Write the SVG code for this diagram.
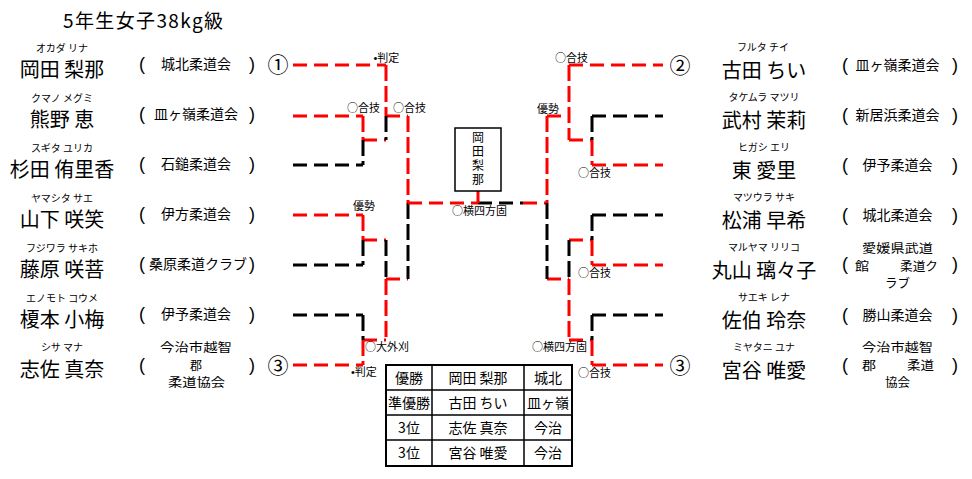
<svg xmlns="http://www.w3.org/2000/svg" width="972" height="479" viewBox="0 0 972 479">
<style>
text{font-family:"Noto Sans CJK JP","Noto Sans",sans-serif;fill:#000}
.fu{font-size:10px;text-anchor:middle}
.nm{font-size:20px;text-anchor:middle}
.cl{font-size:14px;text-anchor:middle}
.c3{font-size:12px}
.pa{font-family:"Liberation Sans",sans-serif;font-size:18px}
.cn{font-size:21px;text-anchor:middle}
.lb{font-size:11px}
.bu{font-family:"Liberation Sans",sans-serif}
.tb{font-size:14px;text-anchor:middle}
.r{stroke:#ff0000}
.k{stroke:#000000}
.h{stroke-width:3;stroke-dasharray:14 7;fill:none}
.v{stroke-width:3;stroke-dasharray:16 5;fill:none}
.s{stroke-width:3;fill:none}
</style>
<rect width="972" height="479" fill="#ffffff"/>
<text id="title" x="63" y="28" font-size="19" textLength="160" lengthAdjust="spacing">5年生女子38kg級</text>

<g id="connectors">
<line class="h r" x1="293" y1="65" x2="386" y2="65"/>
<line class="h r" x1="293" y1="116" x2="363" y2="116"/>
<line class="h k" x1="293" y1="165" x2="363" y2="165"/>
<line class="h r" x1="293" y1="215" x2="363" y2="215"/>
<line class="h k" x1="293" y1="265" x2="363" y2="265"/>
<line class="h k" x1="293" y1="315" x2="363" y2="315"/>
<line class="h r" x1="293" y1="365" x2="363" y2="365"/>
<line class="h r" x1="363" y1="140" x2="386" y2="140"/>
<line class="h r" x1="386" y1="116" x2="408" y2="116"/>
<line class="h r" x1="363" y1="240" x2="386" y2="240"/>
<line class="h r" x1="363" y1="340" x2="386" y2="340"/>
<line class="h r" x1="386" y1="279" x2="408" y2="279"/>
<line class="v r" x1="363" y1="116" x2="363" y2="140"/>
<line class="v k" x1="363" y1="140" x2="363" y2="165"/>
<line class="v r" x1="363" y1="215" x2="363" y2="240"/>
<line class="v k" x1="363" y1="240" x2="363" y2="265"/>
<line class="v k" x1="363" y1="315" x2="363" y2="340"/>
<line class="v r" x1="363" y1="340" x2="363" y2="365"/>
<line class="v r" x1="386" y1="65" x2="386" y2="116"/>
<line class="v k" x1="386" y1="116" x2="386" y2="140"/>
<line class="v k" x1="386" y1="240" x2="386" y2="279"/>
<line class="v r" x1="386" y1="279" x2="386" y2="340"/>
<line class="v r" x1="408" y1="116" x2="408" y2="203"/>
<line class="v k" x1="408" y1="203" x2="408" y2="279"/>
<line class="h r" x1="408" y1="203" x2="478" y2="203"/>
<line class="h k" x1="478" y1="203" x2="523" y2="203"/>
<line class="h r" x1="523" y1="203" x2="547" y2="203"/>
<line class="s r" x1="478" y1="191" x2="478" y2="203"/>
<line class="h r" x1="569" y1="65" x2="663" y2="65"/>
<line class="h k" x1="592" y1="116" x2="663" y2="116"/>
<line class="h r" x1="592" y1="165" x2="663" y2="165"/>
<line class="h k" x1="592" y1="215" x2="663" y2="215"/>
<line class="h r" x1="592" y1="265" x2="663" y2="265"/>
<line class="h k" x1="592" y1="315" x2="663" y2="315"/>
<line class="h r" x1="592" y1="365" x2="663" y2="365"/>
<line class="h r" x1="569" y1="140" x2="592" y2="140"/>
<line class="h r" x1="569" y1="240" x2="592" y2="240"/>
<line class="h r" x1="569" y1="340" x2="592" y2="340"/>
<line class="h r" x1="547" y1="116" x2="569" y2="116"/>
<line class="h r" x1="547" y1="279" x2="569" y2="279"/>
<line class="v k" x1="592" y1="116" x2="592" y2="140"/>
<line class="v r" x1="592" y1="140" x2="592" y2="165"/>
<line class="v k" x1="592" y1="215" x2="592" y2="240"/>
<line class="v r" x1="592" y1="240" x2="592" y2="265"/>
<line class="v k" x1="592" y1="315" x2="592" y2="340"/>
<line class="v r" x1="592" y1="340" x2="592" y2="365"/>
<line class="v r" x1="569" y1="65" x2="569" y2="140"/>
<line class="v k" x1="569" y1="240" x2="569" y2="279"/>
<line class="v r" x1="569" y1="279" x2="569" y2="340"/>
<line class="v r" x1="547" y1="116" x2="547" y2="203"/>
<line class="v k" x1="547" y1="203" x2="547" y2="279"/>
</g>

<g id="labels">
<text class="lb" x="373.5" y="62"><tspan class="bu">•</tspan>判定</text>
<text class="lb" x="347" y="112">○合技</text>
<text class="lb" x="393" y="112">○合技</text>
<text class="lb" x="353" y="210">優勢</text>
<text class="lb" x="365" y="351">○大外刈</text>
<text class="lb" x="351" y="376"><tspan class="bu">•</tspan>判定</text>
<text class="lb" x="452" y="215">○横四方固</text>
<text class="lb" x="555" y="62">○合技</text>
<text class="lb" x="537" y="113">優勢</text>
<text class="lb" x="578" y="177">○合技</text>
<text class="lb" x="578" y="277">○合技</text>
<text class="lb" x="532" y="351">○横四方固</text>
<text class="lb" x="578" y="377">○合技</text>
</g>

<g id="winner-box">
<rect x="455" y="128" width="46" height="63" fill="#ffffff" stroke="#000" stroke-width="1.5"/>
<text x="478" y="131" font-size="12" writing-mode="vertical-rl" letter-spacing="2">岡田梨那</text>
</g>

<g id="p-l1">
<text class="fu" x="62" y="51.5">オカダ リナ</text>
<text class="nm" x="62" y="77">岡田 梨那</text>
<text class="pa" x="139" y="70">(</text>
<text class="cl" x="196" y="69">城北柔道会</text>
<text class="pa" x="249" y="70">)</text>
<text class="cn" x="278" y="72">①</text>
</g>
<g id="p-l2">
<text class="fu" x="62" y="101.5">クマノ メグミ</text>
<text class="nm" x="62" y="127">熊野 恵</text>
<text class="pa" x="139" y="120">(</text>
<text class="cl" x="196" y="119">皿ヶ嶺柔道会</text>
<text class="pa" x="249" y="120">)</text>
</g>
<g id="p-l3">
<text class="fu" x="62" y="151.5">スギタ ユリカ</text>
<text class="nm" x="62" y="177">杉田 侑里香</text>
<text class="pa" x="139" y="170">(</text>
<text class="cl" x="196" y="169">石鎚柔道会</text>
<text class="pa" x="249" y="170">)</text>
</g>
<g id="p-l4">
<text class="fu" x="62" y="201.5">ヤマシタ サエ</text>
<text class="nm" x="62" y="227">山下 咲笑</text>
<text class="pa" x="139" y="220">(</text>
<text class="cl" x="196" y="219">伊方柔道会</text>
<text class="pa" x="249" y="220">)</text>
</g>
<g id="p-l5">
<text class="fu" x="62" y="251.5">フジワラ サキホ</text>
<text class="nm" x="62" y="277">藤原 咲菩</text>
<text class="pa" x="139" y="270">(</text>
<text class="cl" x="198" y="269">桑原柔道クラブ</text>
<text class="pa" x="249" y="270">)</text>
</g>
<g id="p-l6">
<text class="fu" x="62" y="301.5">エノモト コウメ</text>
<text class="nm" x="62" y="327">榎本 小梅</text>
<text class="pa" x="139" y="320">(</text>
<text class="cl" x="196" y="319">伊予柔道会</text>
<text class="pa" x="249" y="320">)</text>
</g>
<g id="p-l7">
<text class="fu" x="62" y="350.5">シサ マナ</text>
<text class="nm" x="62" y="377">志佐 真奈</text>
<text class="pa" x="139" y="371">(</text>
<text class="c3" x="160" y="352" textLength="72" lengthAdjust="spacingAndGlyphs">今治市越智</text>
<text class="c3" x="196" y="369.5" text-anchor="middle">郡</text>
<text class="c3" x="168" y="387" textLength="57" lengthAdjust="spacingAndGlyphs">柔道協会</text>
<text class="pa" x="249" y="371">)</text>
<text class="cn" x="278" y="373">③</text>
</g>

<g id="p-r1">
<text class="cn" x="680" y="73">②</text>
<text class="fu" x="763" y="50.5">フルタ チイ</text>
<text class="nm" x="764" y="78">古田 ちい</text>
<text class="pa" x="842" y="71">(</text>
<text class="cl" x="897.5" y="70">皿ヶ嶺柔道会</text>
<text class="pa" x="952" y="71">)</text>
</g>
<g id="p-r2">
<text class="fu" x="764" y="100.5">タケムラ マツリ</text>
<text class="nm" x="764" y="128">武村 茉莉</text>
<text class="pa" x="842" y="121">(</text>
<text class="cl" x="897.5" y="120">新居浜柔道会</text>
<text class="pa" x="952" y="121">)</text>
</g>
<g id="p-r3">
<text class="fu" x="764" y="150.5">ヒガシ エリ</text>
<text class="nm" x="764" y="178">東 愛里</text>
<text class="pa" x="842" y="171">(</text>
<text class="cl" x="897.5" y="170">伊予柔道会</text>
<text class="pa" x="952" y="171">)</text>
</g>
<g id="p-r4">
<text class="fu" x="764" y="200.5">マツウラ サキ</text>
<text class="nm" x="764" y="228">松浦 早希</text>
<text class="pa" x="842" y="221">(</text>
<text class="cl" x="897.5" y="220">城北柔道会</text>
<text class="pa" x="952" y="221">)</text>
</g>
<g id="p-r5">
<text class="fu" x="764" y="250.5">マルヤマ リリコ</text>
<text class="nm" x="764" y="278">丸山 璃々子</text>
<text class="pa" x="842" y="270">(</text>
<text class="c3" x="862" y="253" textLength="71" lengthAdjust="spacingAndGlyphs">愛媛県武道</text>
<text class="c3" x="855" y="270.5" textLength="14" lengthAdjust="spacingAndGlyphs">館</text>
<text class="c3" x="900" y="270.5" textLength="38" lengthAdjust="spacingAndGlyphs">柔道ク</text>
<text class="c3" x="885" y="288" textLength="25" lengthAdjust="spacingAndGlyphs">ラブ</text>
<text class="pa" x="952" y="270">)</text>
</g>
<g id="p-r6">
<text class="fu" x="764" y="300.5">サエキ レナ</text>
<text class="nm" x="764" y="328">佐伯 玲奈</text>
<text class="pa" x="842" y="321">(</text>
<text class="cl" x="897.5" y="320">勝山柔道会</text>
<text class="pa" x="952" y="321">)</text>
</g>
<g id="p-r7">
<text class="cn" x="680" y="373">③</text>
<text class="fu" x="764" y="350.5">ミヤタニ ユナ</text>
<text class="nm" x="764" y="378">宮谷 唯愛</text>
<text class="pa" x="842" y="371">(</text>
<text class="c3" x="862" y="352" textLength="71" lengthAdjust="spacingAndGlyphs">今治市越智</text>
<text class="c3" x="862" y="369.5" textLength="14" lengthAdjust="spacingAndGlyphs">郡</text>
<text class="c3" x="907" y="369.5" textLength="27" lengthAdjust="spacingAndGlyphs">柔道</text>
<text class="c3" x="885" y="387" textLength="25" lengthAdjust="spacingAndGlyphs">協会</text>
<text class="pa" x="952" y="371">)</text>
</g>

<g id="results">
<rect x="386" y="365" width="186" height="101" fill="#ffffff" stroke="#000" stroke-width="2"/>
<line x1="432" y1="365" x2="432" y2="466" stroke="#000" stroke-width="1.5"/>
<line x1="524" y1="365" x2="524" y2="466" stroke="#000" stroke-width="1.5"/>
<line x1="386" y1="390" x2="572" y2="390" stroke="#000" stroke-width="1.5"/>
<line x1="386" y1="415" x2="572" y2="415" stroke="#000" stroke-width="1.5"/>
<line x1="386" y1="440" x2="572" y2="440" stroke="#000" stroke-width="1.5"/>
<text class="tb" x="409" y="382.5">優勝</text>
<text class="tb" x="478" y="382.5">岡田 梨那</text>
<text class="tb" x="548" y="382.5">城北</text>
<text class="tb" x="409" y="407.5">準優勝</text>
<text class="tb" x="478" y="407.5">古田 ちい</text>
<text class="tb" x="548" y="407.5">皿ヶ嶺</text>
<text class="tb" x="409" y="432.5">3位</text>
<text class="tb" x="478" y="432.5">志佐 真奈</text>
<text class="tb" x="548" y="432.5">今治</text>
<text class="tb" x="409" y="458">3位</text>
<text class="tb" x="478" y="458">宮谷 唯愛</text>
<text class="tb" x="548" y="458">今治</text>
</g>
</svg>
